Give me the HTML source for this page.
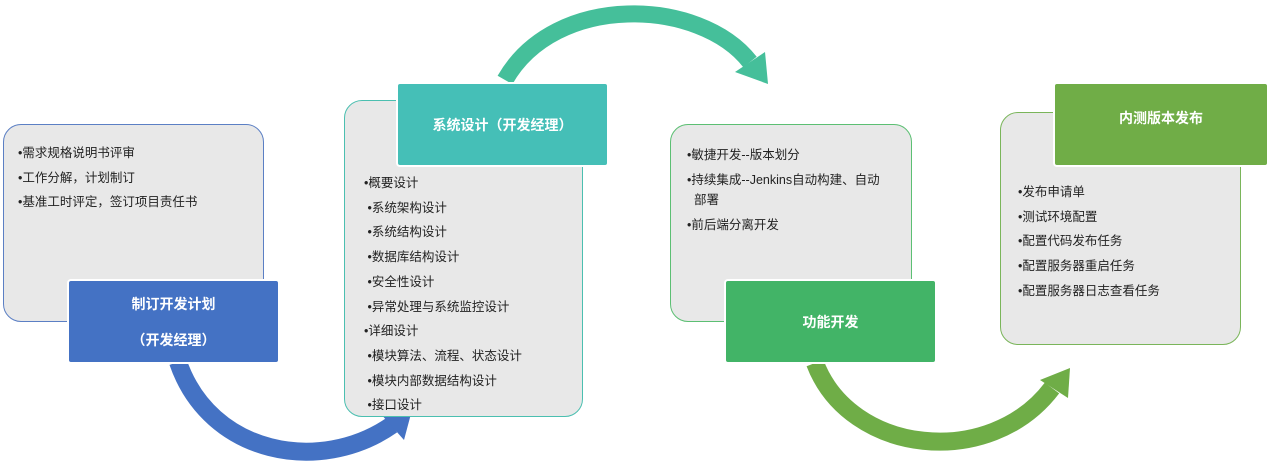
<!DOCTYPE html>
<html><head><meta charset="utf-8"><style>
body{margin:0;width:1274px;height:464px;background:#fff;position:relative;overflow:hidden;font-family:"Liberation Sans","Noto Sans CJK SC",sans-serif;}
.box{position:absolute;background:#e8e8e8;border:1.5px solid;border-radius:18px;box-sizing:border-box;}
.hd{position:absolute;color:#fff;font-weight:bold;font-size:14px;display:flex;align-items:center;justify-content:center;text-align:center;border:2px solid #fff;border-radius:4px;box-sizing:border-box;line-height:36px;}
.t{position:absolute;font-size:12.5px;color:#222;line-height:24.7px;white-space:nowrap;}
svg{position:absolute;left:0;top:0;}
</style></head><body>
<svg width="1274" height="464">
<path d="M178,362 C210,455 320,475 392,425" stroke="#4472c4" stroke-width="18" fill="none"/>
<polygon points="412,410 380,413 404,440" fill="#4472c4"/>
<path d="M505,80 C555,-8 700,-2 750,62" stroke="#45bf9a" stroke-width="17" fill="none"/>
<polygon points="768,84 735,72 765,52" fill="#45bf9a"/>
<path d="M815,363 C850,455 990,470 1052,388" stroke="#6fad47" stroke-width="18" fill="none"/>
<polygon points="1070,368 1040,380 1068,398" fill="#6fad47"/>
</svg>
<div class="box" style="left:3px;top:124px;width:261px;height:198px;border-color:#5b7fc4"></div>
<div class="t" style="left:18px;top:141px;">•需求规格说明书评审<br>•工作分解，计划制订<br>•基准工时评定，签订项目责任书</div>
<div class="hd" style="left:67px;top:279px;width:213px;height:85px;background:#4472c4;">制订开发计划<br>（开发经理）</div>

<div class="box" style="left:344px;top:100px;width:239px;height:317px;border-color:#4bbfb0"></div>
<div class="t" style="left:364px;top:171px;">•概要设计<br>&nbsp;•系统架构设计<br>&nbsp;•系统结构设计<br>&nbsp;•数据库结构设计<br>&nbsp;•安全性设计<br>&nbsp;•异常处理与系统监控设计<br>•详细设计<br>&nbsp;•模块算法、流程、状态设计<br>&nbsp;•模块内部数据结构设计<br>&nbsp;•接口设计</div>
<div class="hd" style="left:396px;top:82px;width:213px;height:85px;background:#45bfb7;">系统设计（开发经理）</div>

<div class="box" style="left:670px;top:124px;width:242px;height:198px;border-color:#5cbf73"></div>
<div class="t" style="left:687px;top:145px;line-height:20px;">•敏捷开发--版本划分</div>
<div class="t" style="left:687px;top:170px;line-height:20px;">•持续集成--Jenkins自动构建、自动<br>&nbsp;&nbsp;部署</div>
<div class="t" style="left:687px;top:215px;line-height:20px;">•前后端分离开发</div>
<div class="hd" style="left:724px;top:279px;width:213px;height:85px;background:#42b467;">功能开发</div>

<div class="box" style="left:1000px;top:112px;width:241px;height:233px;border-color:#7ab55a"></div>
<div class="t" style="left:1018px;top:180px;">•发布申请单<br>•测试环境配置<br>•配置代码发布任务<br>•配置服务器重启任务<br>•配置服务器日志查看任务</div>
<div class="hd" style="left:1053px;top:82px;width:216px;height:85px;background:#70ad47;align-items:flex-start;padding-top:24px;line-height:20px;">内测版本发布</div>
</body></html>
